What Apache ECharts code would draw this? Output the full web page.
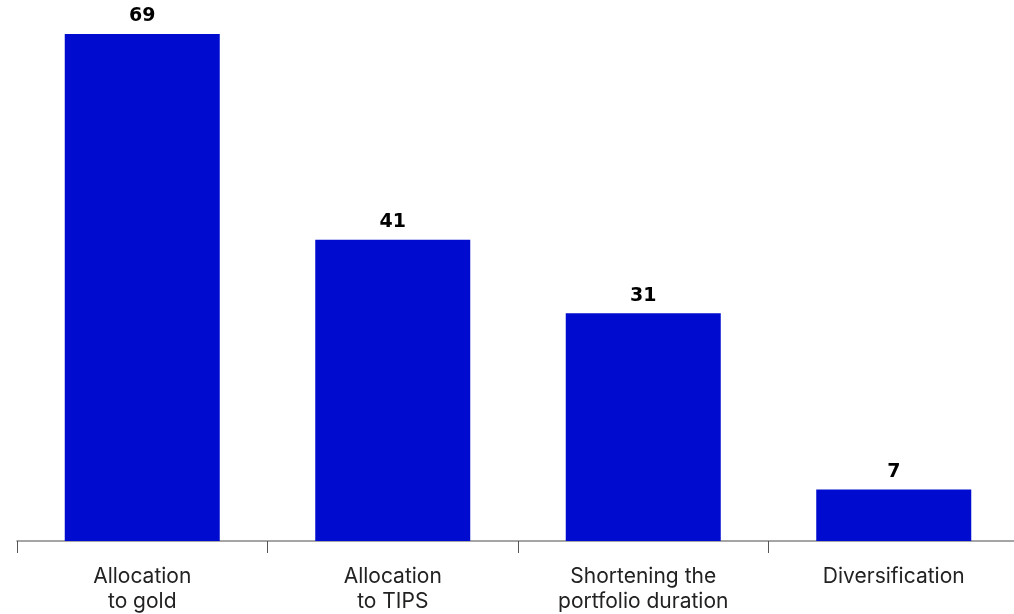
<!DOCTYPE html>
<html><head><meta charset="utf-8">
<script src="https://cdn.jsdelivr.net/npm/echarts@6/dist/echarts.min.js"></script>
<style>html,body{margin:0;padding:0;background:#fff;overflow:hidden}#c{width:1020px;height:614px}</style>
</head><body><div id="c"></div>
<script>
const categories = ['Allocation\nto gold', 'Allocation\nto TIPS', 'Shortening the\nportfolio duration', 'Diversification'];
const values = [69, 41, 31, 7];

const chart = echarts.init(document.getElementById('c'), null, {renderer: 'canvas'});
chart.setOption({
  animation: false,
  grid: {left: 17, top: 34, width: 1002, height: 508, containLabel: false},
  xAxis: {
    type: 'category', data: categories,
    axisLine: {lineStyle: {color: '#888', width: 1.5}},
    axisTick: {show: true, length: 12, lineStyle: {color: '#555', width: 1}},
    axisLabel: {color: '#222', fontFamily: 'Inter', fontSize: 21, lineHeight: 25, margin: 23, interval: 0}
  },
  yAxis: {type: 'value', min: 0, max: 69, show: false, splitLine: {show: false}},
  series: [{
    type: 'bar', data: values, barWidth: 155,
    itemStyle: {color: '#000bd0'},
    label: {show: true, position: 'top', distance: 8, color: '#000', fontFamily: 'DejaVu Sans', fontWeight: 'bold', fontSize: 19}
  }]
});
</script></body></html>
